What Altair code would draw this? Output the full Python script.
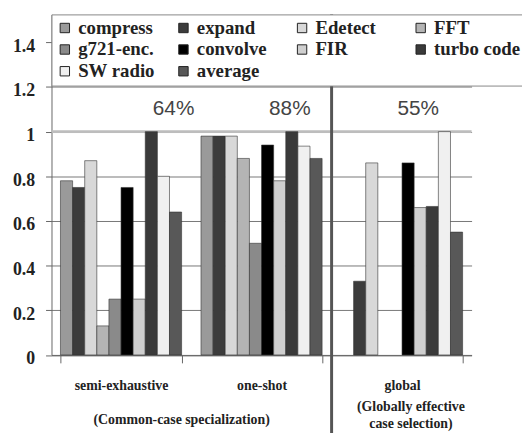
import altair as alt
import pandas as pd

groups = ["semi-exhaustive", "one-shot", "global"]
series = ["compress", "expand", "Edetect", "FFT", "g721-enc.", "convolve",
          "FIR", "turbo code", "SW radio", "average"]
colors = ["#9a9a9a", "#3c3c3c", "#d8d8d8", "#b4b4b4", "#8a8a8a", "#000000",
          "#cfcfcf", "#3a3a3a", "#f0f0f0", "#585858"]
# order in which the legend domain is given so the grid reads row by row
legend_order = ["compress", "g721-enc.", "turbo code", "expand", "convolve",
                "SW radio", "Edetect", "FIR", "average", "FFT"]

semi_exhaustive = [0.78, 0.75, 0.87, 0.13, 0.25, 0.75, 0.25, 1.0, 0.80, 0.64]
one_shot = [0.98, 0.98, 0.98, 0.88, 0.50, 0.94, 0.78, 1.0, 0.935, 0.88]
global_sel = [0.0, 0.33, 0.86, 0.0, 0.0, 0.86, 0.66, 0.665, 1.0, 0.55]

pct_labels = ["64%", "88%", "55%"]
pct_anchor = ["average", "turbo code", "FIR"]
pct_level = [1.1, 1.1, 1.1]

y_ticks = [0, 0.2, 0.4, 0.6, 0.8, 1.0, 1.2, 1.4]

rows = []
for g, vals in zip(groups, [semi_exhaustive, one_shot, global_sel]):
    for s, v in zip(series, vals):
        rows.append({"group": g, "series": s, "value": v})
df = pd.DataFrame(rows)

pct_df = pd.DataFrame({"group": groups, "anchor": pct_anchor,
                       "level": pct_level, "label": pct_labels})

color_of = dict(zip(series, colors))
legend_colors = [color_of[s] for s in legend_order]

W, H = 425, 344.5
SERIF = "Liberation Serif, Times New Roman, Times, DejaVu Serif, serif"
SANS = "Liberation Sans, Arial, Helvetica, sans-serif"

x_enc = alt.X("group:N", sort=groups, title=None,
              scale=alt.Scale(domain=groups, paddingInner=0.138, paddingOuter=0.064),
              axis=alt.Axis(labelAngle=0, labelFont=SERIF, labelFontSize=14,
                            labelFontWeight="bold", labelColor="#222",
                            tickBand="extent", tickSize=8, tickColor="#666",
                            domainColor="#666", labelPadding=16, grid=False))
y_scale = alt.Scale(domain=[0, 1.525], nice=False, zero=True)
xoff_scale = alt.Scale(domain=series, paddingInner=0, paddingOuter=0)

ref_rule = alt.Chart(pd.DataFrame({"level": [1.0]})).mark_rule(
    color="#bdbdbd", strokeWidth=3
).encode(y=alt.Y("level:Q", scale=y_scale))

bars = alt.Chart(df).mark_bar(stroke="#333", strokeWidth=0.6).encode(
    x=x_enc,
    xOffset=alt.XOffset("series:N", sort=series, scale=xoff_scale),
    y=alt.Y("value:Q", scale=y_scale, title=None,
            axis=alt.Axis(values=y_ticks, format=".1~f", labelFont=SERIF,
                          labelFontSize=18, labelFontWeight="bold",
                          labelColor="#222", tickSize=6, tickColor="#666",
                          domainColor="#666", labelPadding=11, labelOffset=4,
                          grid=True, gridColor="#777", gridWidth=1)),
    color=alt.Color("series:N",
                    scale=alt.Scale(domain=legend_order, range=legend_colors),
                    legend=alt.Legend(title=None, orient="none", legendX=0, legendY=0,
                                      columns=4, gridAlign="all",
                                      symbolType="square", symbolSize=90,
                                      symbolStrokeColor="#222", symbolStrokeWidth=1,
                                      symbolOpacity=1,
                                      labelFont=SERIF, labelFontSize=19,
                                      labelFontWeight="bold", labelColor="#222",
                                      labelLimit=200, labelOffset=4,
                                      columnPadding=9, rowPadding=2,
                                      padding=4, strokeColor="#888",
                                      fillColor="white")),
).transform_filter("datum.value > 0")

pct_text = alt.Chart(pct_df).mark_text(
    font=SANS, fontSize=21, color="#444", dx=-2, baseline="middle"
).encode(
    x=alt.X("group:N", sort=groups),
    xOffset=alt.XOffset("anchor:N", scale=xoff_scale),
    y=alt.Y("level:Q", scale=y_scale),
    text="label:N",
)

sep = alt.Chart(pd.DataFrame({"group": ["global"]})).mark_rule(
    color="#555", strokeWidth=3, xOffset=-10
).encode(
    x=alt.X("group:N", sort=groups, bandPosition=0),
    y=alt.value(0),
    y2=alt.value(430),
)

sub1 = alt.Chart(pd.DataFrame({"group": ["semi-exhaustive"],
                               "t": ["(Common-case specialization)"]})).mark_text(
    font=SERIF, fontSize=14, fontWeight="bold", color="#222", baseline="middle"
).encode(
    x=alt.X("group:N", sort=groups, bandPosition=1),
    y=alt.value(410),
    text="t:N",
)

sub2 = alt.Chart(pd.DataFrame({"group": ["global"],
                               "t": ["(Globally effective\ncase selection)"]})).mark_text(
    font=SERIF, fontSize=14, fontWeight="bold", color="#222", baseline="top",
    lineBreak="\n", lineHeight=17, dx=9
).encode(
    x=alt.X("group:N", sort=groups),
    y=alt.value(390),
    text="t:N",
)

chart = alt.layer(ref_rule, bars, pct_text, sep, sub1, sub2).properties(
    width=W, height=H,
    padding={"left": 44, "top": 4, "right": 51, "bottom": 77},
    autosize=alt.AutoSizeParams(type="none"),
).configure_view(stroke=None)

chart.save("out.html", embed_options={"renderer": "svg", "actions": False})
